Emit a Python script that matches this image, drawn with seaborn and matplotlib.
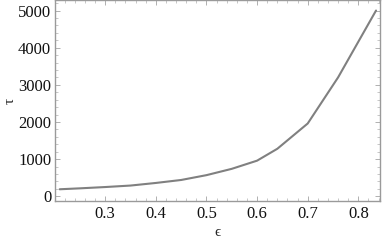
import matplotlib
matplotlib.use("Agg")
import matplotlib.pyplot as plt
import seaborn as sns
from matplotlib.ticker import MultipleLocator

sns.set_style("white")
plt.rcParams["font.family"] = ["Liberation Serif", "DejaVu Serif"]

# values
eps = [0.21, 0.25, 0.30, 0.35, 0.40, 0.45, 0.50, 0.55, 0.60, 0.64, 0.70, 0.76, 0.835]
tau = [190, 215, 250, 290, 360, 440, 570, 740, 960, 1280, 1960, 3200, 5000]

fig = plt.figure(figsize=(3.82, 2.42), dpi=100)
ax = fig.add_axes([0.145, 0.168, 0.850, 0.830])

sns.lineplot(x=eps, y=tau, ax=ax, color="#808080", linewidth=1.5)

ax.set_xlim(0.2015, 0.843)
ax.set_ylim(-135, 5270)
ax.xaxis.set_major_locator(MultipleLocator(0.1))
ax.xaxis.set_minor_locator(MultipleLocator(0.02))
ax.yaxis.set_major_locator(MultipleLocator(1000))
ax.yaxis.set_minor_locator(MultipleLocator(200))
ax.xaxis.set_major_formatter(plt.FuncFormatter(lambda v, p: f"{v:.1f}"))

for s in ax.spines.values():
    s.set_visible(True)
    s.set_color("#9a9a9a")
    s.set_linewidth(1.0)

ax.tick_params(which="both", direction="in", top=True, right=True,
               bottom=True, left=True, color="#b0b0b0", labelsize=12,
               labelcolor="#111111", pad=3)
ax.tick_params(which="major", length=3.5, width=0.7)
ax.tick_params(which="minor", length=2, width=0.5)

ax.set_xlabel("ϵ", fontsize=11, labelpad=3)
ax.set_ylabel("τ", fontsize=11, labelpad=1)

fig.savefig("out.png", dpi=100)
